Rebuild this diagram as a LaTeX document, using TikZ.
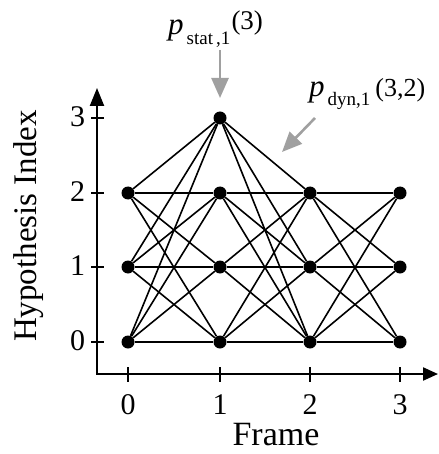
\documentclass[tikz,border=0pt]{standalone}
\usepackage{fontspec}
\setmainfont{Liberation Serif}
\usetikzlibrary{arrows.meta}
\definecolor{anngray}{RGB}{160,160,160}
\begin{document}
\begin{tikzpicture}[x=1pt,y=-1pt,
  dot/.style={circle,fill=black,inner sep=0pt,minimum size=13pt},
  edge/.style={line width=1.6pt},
  axis/.style={line width=2.2pt},
  tick/.style={line width=1.8pt},
  numlbl/.style={inner sep=0pt,font=\fontsize{30}{30}\selectfont},
  bigtxt/.style={inner sep=0pt,font=\fontsize{34}{34}\selectfont},
  anntxt/.style={inner sep=0pt,anchor=base west,font=\fontsize{27}{27}\selectfont},
  ann/.style={anngray,line width=2.6pt,-{Triangle[length=20pt,width=17pt]}}]
\useasboundingbox (0,0) rectangle (438,454);
% axes
\coordinate (O) at (97,374);
\coordinate (ytip) at (97,88);
\coordinate (xtip) at (438,374);
\draw[axis,{Triangle[length=18pt,width=14pt]}-{Triangle[length=15pt,width=13pt]}] (ytip) -- (O) -- (xtip);
\foreach \y/\t in {342/0,267/1,193/2,118/3}{
  \draw[tick] (91,\y) -- (104,\y);
  \node[numlbl] (yl\t) at (77.5,\y-1) {\t};
}
\foreach \x/\t in {128/0,220/1,310/2,400/3}{
  \draw[tick] (\x,367) -- (\x,382);
  \node[numlbl] (xl\t) at (\x,405) {\t};
}
\node[bigtxt] (xlabel) at (276,435) {Frame};
\node[bigtxt,rotate=90,font=\fontsize{33}{33}\selectfont] (ylabel) at (29,226) {Hypothesis Index};
% nodes
\foreach \c/\x in {0/128,1/220,2/310,3/400}
  \foreach \r/\y in {0/342,1/267,2/193}
    \node[dot] (n\c\r) at (\x,\y) {};
\node[dot] (n13) at (220,118) {};
% edges
\foreach \a in {0,1,2}{
  \foreach \b in {0,1,2,3}{
    \draw[edge] (n0\a) -- (n1\b);
    \draw[edge] (n1\b) -- (n2\a);
  }
  \foreach \b in {0,1,2}{
    \draw[edge] (n2\a) -- (n3\b);
  }
}
% annotations
\node[anntxt] (lstat) at (168,35) {{\fontsize{31}{31}\selectfont\textit{p}}\kern3pt\raisebox{-10pt}{\fontsize{19}{19}\selectfont stat\,,1}\kern1pt\raisebox{5pt}{(3)}};
\coordinate (sa) at (220,50);
\coordinate (sb) at (220,98);
\draw[ann] (sa) -- (sb);
\node[anntxt] (ldyn) at (309,97) {{\fontsize{31}{31}\selectfont\textit{p}}\kern3pt\raisebox{-9pt}{\fontsize{19}{19}\selectfont dyn,1}\kern5pt{\fontsize{26}{26}\selectfont(3,2)}};
\coordinate (da) at (315,118);
\coordinate (db) at (282,152);
\draw[ann] (da) -- (db);
\end{tikzpicture}
\end{document}
